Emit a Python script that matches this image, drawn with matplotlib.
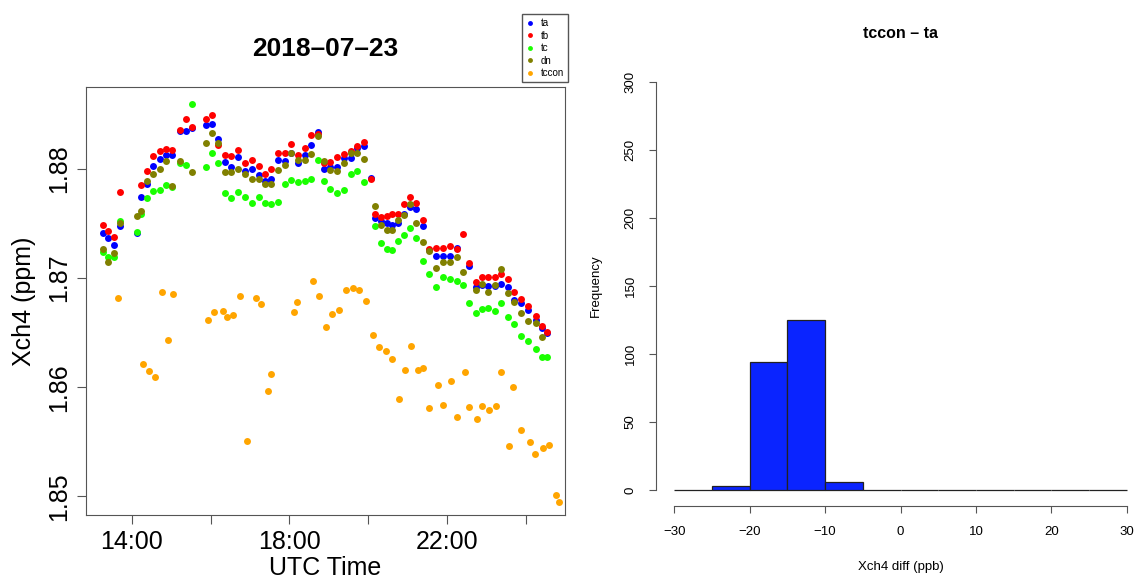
import numpy as np
import matplotlib
matplotlib.use("Agg")
import matplotlib.pyplot as plt

plt.rcParams['font.family'] = ['Liberation Sans', 'DejaVu Sans']

nan = np.nan

# UTC hour of each measurement (ta, tb, tc, dn share the same times)
hours = [13.27, 13.40, 13.55, 13.70, 14.13, 14.24, 14.39, 14.54, 14.72, 14.87,
         15.02, 15.23, 15.38, 15.53, 15.89, 16.04, 16.19, 16.37, 16.52, 16.70,
         16.88, 17.05, 17.23, 17.38, 17.54, 17.71, 17.89, 18.04, 18.22, 18.40,
         18.55, 18.73, 18.88, 19.03, 19.21, 19.39, 19.57, 19.72, 19.90, 20.07,
         20.18, 20.33, 20.48, 20.61, 20.76, 20.91, 21.06, 21.22, 21.39, 21.55,
         21.72, 21.90, 22.08, 22.26, 22.41, 22.56, 22.74, 22.89, 23.04, 23.22,
         23.37, 23.55, 23.70, 23.88, 24.06, 24.26, 24.41, 24.54]

ta = [1.8741, 1.8737, 1.8730, 1.8748, 1.8741, 1.8774, 1.8786, 1.8803, 1.8809, 1.8813,
      1.8813, 1.8835, 1.8835, 1.8837, 1.8840, 1.8841, 1.8827, 1.8806, 1.8802, 1.8811,
      1.8798, 1.8800, 1.8794, 1.8789, 1.8791, 1.8808, 1.8807, 1.8815, 1.8805, 1.8813,
      1.8822, 1.8834, 1.8800, 1.8802, 1.8802, 1.8810, 1.8810, 1.8819, 1.8821, 1.8792,
      1.8755, 1.8752, 1.8750, 1.8749, 1.8750, 1.8759, 1.8765, 1.8763, 1.8748, 1.8726,
      1.8720, 1.8720, 1.8720, 1.8728, nan, 1.8711, 1.8692, 1.8694, 1.8693, 1.8693,
      1.8695, 1.8692, 1.8680, 1.8677, 1.8671, 1.8662, 1.8654, 1.8650]

tb = [1.8749, 1.8743, 1.8738, 1.8779, nan, 1.8785, 1.8798, 1.8812, 1.8816, 1.8818,
      1.8817, 1.8836, 1.8846, 1.8838, 1.8846, 1.8849, 1.8822, 1.8813, 1.8812, 1.8817,
      1.8805, 1.8808, 1.8803, 1.8795, 1.8800, 1.8815, 1.8815, 1.8823, 1.8813, 1.8819,
      1.8831, 1.8832, 1.8805, 1.8806, 1.8811, 1.8814, 1.8816, 1.8821, 1.8825, 1.8791,
      1.8759, 1.8756, 1.8757, 1.8759, 1.8759, 1.8768, 1.8774, 1.8769, 1.8753, 1.8727,
      1.8728, 1.8728, 1.8729, 1.8727, 1.8740, 1.8714, 1.8696, 1.8701, 1.8701, 1.8701,
      1.8704, 1.8699, 1.8687, 1.8681, 1.8674, 1.8665, 1.8656, 1.8651]

tc = [1.8724, 1.8719, 1.8719, 1.8752, 1.8742, 1.8759, 1.8773, 1.8780, 1.8781, 1.8785,
      1.8783, 1.8805, 1.8804, 1.8859, 1.8802, 1.8815, 1.8805, 1.8778, 1.8773, 1.8779,
      1.8774, 1.8769, 1.8774, 1.8769, 1.8768, 1.8770, 1.8786, 1.8790, 1.8788, 1.8789,
      1.8791, 1.8808, 1.8789, 1.8782, 1.8778, 1.8781, 1.8795, 1.8798, 1.8788, nan,
      1.8748, 1.8732, 1.8727, 1.8726, 1.8734, 1.8739, 1.8746, 1.8737, 1.8716, 1.8704,
      1.8692, 1.8701, 1.8699, 1.8697, 1.8694, 1.8677, 1.8668, 1.8672, 1.8673, 1.8670,
      1.8677, 1.8664, 1.8658, 1.8647, 1.8642, 1.8635, 1.8628, 1.8628]

dn = [1.8727, 1.8715, 1.8723, 1.8750, 1.8757, 1.8761, 1.8789, 1.8795, 1.8800, 1.8807,
      1.8784, 1.8807, nan, 1.8797, 1.8824, 1.8833, 1.8824, 1.8797, 1.8797, 1.8800,
      1.8795, 1.8791, 1.8791, 1.8786, 1.8786, 1.8799, 1.8804, 1.8815, 1.8808, 1.8808,
      1.8814, 1.8830, 1.8807, 1.8799, 1.8798, 1.8805, 1.8815, 1.8815, 1.8809, nan,
      1.8766, 1.8749, 1.8744, 1.8744, 1.8753, 1.8758, 1.8768, 1.8750, 1.8733, 1.8725,
      1.8709, 1.8715, 1.8715, 1.8719, 1.8706, nan, 1.8689, 1.8695, 1.8687, 1.8694,
      1.8708, 1.8686, 1.8678, 1.8668, 1.8661, 1.8659, 1.8646, nan]

tccon_hours = [13.65, 14.28, 14.43, 14.60, 14.76, 14.93, 15.04, 15.94, 16.08, 16.31,
               16.41, 16.56, 16.74, 16.92, 17.15, 17.27, 17.46, 17.54, 18.12, 18.19,
               18.59, 18.76, 18.92, 19.09, 19.26, 19.43, 19.62, 19.78, 19.96, 20.12,
               20.28, 20.45, 20.61, 20.78, 20.94, 21.08, 21.28, 21.40, 21.55, 21.77,
               21.90, 22.10, 22.27, 22.47, 22.56, 22.76, 22.90, 23.07, 23.25, 23.38,
               23.58, 23.68, 23.89, 24.10, 24.25, 24.43, 24.60, 24.76, 24.85]
tccon = [1.8682, 1.8621, 1.8615, 1.8609, 1.8687, 1.8643, 1.8685, 1.8662, 1.8669, 1.8670,
         1.8664, 1.8666, 1.8684, 1.8551, 1.8682, 1.8676, 1.8597, 1.8612, 1.8669, 1.8678,
         1.8697, 1.8684, 1.8655, 1.8667, 1.8671, 1.8689, 1.8691, 1.8689, 1.8679, 1.8648,
         1.8637, 1.8633, 1.8626, 1.8589, 1.8616, 1.8638, 1.8616, 1.8618, 1.8581, 1.8602,
         1.8584, 1.8606, 1.8573, 1.8614, 1.8582, 1.8571, 1.8583, 1.8579, 1.8583, 1.8614,
         1.8546, 1.8600, 1.8561, 1.8550, 1.8539, 1.8544, 1.8547, 1.8501, 1.8495]

# histogram of tccon - ta (ppb), 5 ppb bins
bin_edges = [-30, -25, -20, -15, -10, -5, 0, 5, 10, 15, 20, 25, 30]
bin_counts = [0, 3, 94, 125, 6, 0, 0, 0, 0, 0, 0, 0]

x_ticks = [14, 16, 18, 20, 22, 24]
x_ticklabels = ['14:00', '', '18:00', '', '22:00', '']
y_ticks = [1.85, 1.86, 1.87, 1.88]

series = [('ta', ta, '#0000ff'), ('tb', tb, '#ff0000'), ('tc', tc, '#1aff00'),
          ('dn', dn, '#808000')]

fig = plt.figure(figsize=(11.35, 5.82), dpi=100)
grey = '#555555'

# left: time series
ax = fig.add_axes([0.0758, 0.1151, 0.4220, 0.7354])
handles = []
for name, vals, col in series:
    h, = ax.plot(hours, vals, 'o', ms=5, color=col, mec='none', label=name)
    handles.append(h)
h, = ax.plot(tccon_hours, tccon, 'o', ms=5, color='#ffa500', mec='none', label='tccon')
handles.append(h)

ax.set_xlim(12.84, 25.0)
ax.set_ylim(1.8483, 1.8875)
ax.set_xticks(x_ticks)
ax.set_xticklabels(x_ticklabels)
ax.set_yticks(y_ticks)
ax.set_yticklabels(['%.2f' % v for v in y_ticks], rotation=90, va='center')
for s in ax.spines.values():
    s.set_color(grey)
ax.tick_params(length=6.5, color=grey, labelsize=18, pad=4)
ax.set_xlabel('UTC Time', fontsize=18, labelpad=2)
ax.set_ylabel('Xch4 (ppm)', fontsize=18, labelpad=8)
ax.set_title('2018\u201307\u201323', fontsize=19, fontweight='bold', pad=22)

fig.legend(handles=handles, loc='upper left', bbox_to_anchor=(0.4597, 0.976),
           fontsize=7, markerscale=0.7, fancybox=False, edgecolor=grey,
           framealpha=1, borderaxespad=0, handlelength=0.8, handletextpad=0.7,
           labelspacing=0.25, borderpad=0.45)

# right: histogram
hx = fig.add_axes([0.578, 0.1301, 0.4308, 0.7570])
widths = np.diff(bin_edges)
hx.bar(bin_edges[:-1], bin_counts, width=widths, align='edge', color='#0a24ff',
       edgecolor='#222222', linewidth=0.9)
hx.set_xlim(-32.4, 32.4)
hx.set_ylim(-12, 312)
hx.spines['top'].set_visible(False)
hx.spines['right'].set_visible(False)
hx.spines['left'].set_bounds(0, 300)
hx.spines['bottom'].set_bounds(-30, 30)
for s in ('left', 'bottom'):
    hx.spines[s].set_color(grey)
hx.set_xticks(range(-30, 31, 10))
hx.set_yticks(range(0, 301, 50))
hx.set_yticklabels([str(v) for v in range(0, 301, 50)], rotation=90, va='center')
hx.tick_params(length=5, color=grey, labelsize=9.5, pad=9)
hx.set_xlabel('Xch4 diff (ppb)', fontsize=9.5, labelpad=17)
hx.set_ylabel('Frequency', fontsize=9.5, labelpad=16)
hx.set_title('tccon \u2013 ta', fontsize=11.5, fontweight='bold', pad=20)

fig.savefig('out.png', dpi=100)
